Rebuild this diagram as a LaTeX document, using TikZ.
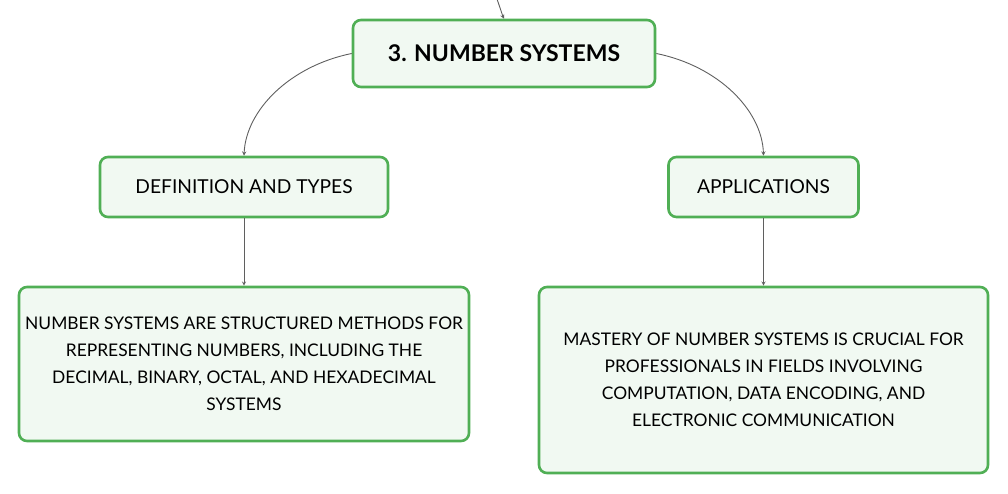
\documentclass[tikz,border=0pt]{standalone}
\usepackage{fontspec}
\setmainfont{Lato}
\usepackage{tikz}
\definecolor{boxgreen}{RGB}{80,175,85}
\definecolor{boxfill}{RGB}{241,249,242}
\definecolor{linegray}{RGB}{95,95,95}
\tikzstyle{arrow} = [->,>=stealth,linegray,line width=0.9pt,shorten >=0pt]
\tikzstyle{box} = [draw=boxgreen,fill=boxfill,line width=2.6pt,rounded corners=8pt,align=center,inner sep=0pt]

\begin{document}
\begin{tikzpicture}[x=1pt,y=-1pt]
        \useasboundingbox (0,0) rectangle (1008,494);
        \node[box, minimum width=302pt, minimum height=67pt, font=\fontsize{23}{27}\selectfont\bfseries] at (504,53.5) (root) {3. NUMBER SYSTEMS};
        \node[box, minimum width=288pt, minimum height=60pt, font=\fontsize{19.2}{23}\selectfont] at (244,187) (def) {DEFINITION AND TYPES};
        \node[box, minimum width=190pt, minimum height=60pt, font=\fontsize{19.2}{23}\selectfont] at (763.5,187) (app) {APPLICATIONS};
        \node[box, minimum width=450pt, minimum height=154pt, font=\fontsize{17.4}{27}\selectfont] at (244,364) (deftext) {NUMBER SYSTEMS ARE STRUCTURED METHODS FOR\\REPRESENTING NUMBERS, INCLUDING THE\\DECIMAL, BINARY, OCTAL, AND HEXADECIMAL\\SYSTEMS};
        \node[box, minimum width=449pt, minimum height=186pt, font=\fontsize{17.4}{27}\selectfont] at (763.5,380) (apptext) {MASTERY OF NUMBER SYSTEMS IS CRUCIAL FOR\\PROFESSIONALS IN FIELDS INVOLVING\\COMPUTATION, DATA ENCODING, AND\\ELECTRONIC COMMUNICATION};
        \coordinate (top) at (497,-1);

        \draw[arrow] (top) .. controls (499,8) .. (root.north);
        \draw[arrow] (root.west) .. controls (290,66) and (246,110) .. (def.north);
        \draw[arrow] (root.east) .. controls (718,66) and (762,110) .. (app.north);
        \draw[arrow] (def) -- (deftext);
        \draw[arrow] (app) -- (apptext);
    \end{tikzpicture}
\end{document}
